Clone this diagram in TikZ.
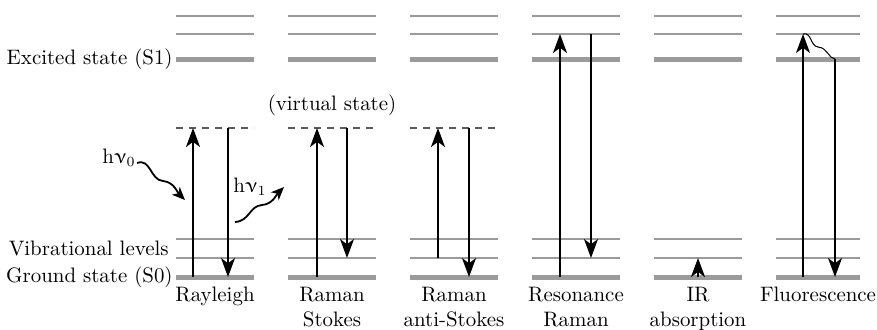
\documentclass[tikz,border=0pt]{standalone}
\usepackage{upgreek}
\usetikzlibrary{arrows.meta}
\definecolor{levelgray}{RGB}{155,155,155}
\definecolor{virtgray}{RGB}{90,90,90}
\tikzset{
  thinlevel/.style={draw=levelgray,line width=0.75pt},
  thicklevel/.style={draw=levelgray,line width=2.5pt},
  virtlevel/.style={draw=virtgray,line width=0.6pt,dash pattern=on 3.5pt off 3pt},
  trans/.style={line width=0.85pt,-{Stealth[length=9.5pt,width=7pt,inset=2.6pt]}},
  photon/.style={line width=0.9pt,-{Stealth[length=6.5pt,width=5.5pt,inset=1.8pt]}},
  lbl/.style={font=\fontsize{10.45}{12.5}\selectfont,inner sep=1pt},
  collbl/.style={align=center,anchor=north,inner sep=0pt,font=\fontsize{10.45}{12.2}\selectfont}
}
\begin{document}
\begin{tikzpicture}[x=0.5pt,y=-0.5pt]
\useasboundingbox (0,0) rectangle (877,329);

% energy levels of one column between left x and right x
\newcommand{\levelset}[2]{%
  \draw[thinlevel] (#1,16) -- (#2,16);
  \draw[thinlevel] (#1,34) -- (#2,34);
  \draw[thicklevel] (#1,59) -- (#2,59);
  \draw[thinlevel] (#1,239) -- (#2,239);
  \draw[thinlevel] (#1,258) -- (#2,258);
  \draw[thicklevel] (#1,277) -- (#2,277);
}
\levelset{176}{254}
\levelset{288}{376}
\levelset{410}{498}
\levelset{532}{620}
\levelset{654}{742}
\levelset{776}{860}

% virtual states
\draw[virtlevel] (176,128) -- (254,128);
\draw[virtlevel] (288,128) -- (376,128);
\draw[virtlevel] (410,128) -- (498,128);

% left-hand labels
\node[lbl,anchor=east] (lexc) at (175,59) {Excited state (S1)};
\node[lbl,anchor=east] (lvib) at (171,248) {Vibrational levels};
\node[lbl,anchor=east] (lgnd) at (175,277) {Ground state (S0)};
\node[lbl] (lvirt) at (332,105) {(virtual state)};

% column labels
\node[collbl] (cray) at (215,287) {Rayleigh};
\node[collbl] (csto) at (332,287) {Raman\\Stokes};
\node[collbl] (cast) at (454,287) {Raman\\anti-Stokes};
\node[collbl] (cres) at (576,287) {Resonance\\Raman};
\node[collbl] (cir) at (698,287) {IR\\absorption};
\node[collbl] (cflu) at (818,287) {Fluorescence};

% transition end points
\coordinate (r1a) at (193,277); \coordinate (r1b) at (193,128);
\coordinate (r2a) at (228,128); \coordinate (r2b) at (228,277);
\coordinate (s1a) at (317,277); \coordinate (s1b) at (317,128);
\coordinate (s2a) at (347,128); \coordinate (s2b) at (347,258);
\coordinate (a1a) at (438,258); \coordinate (a1b) at (438,128);
\coordinate (a2a) at (469,128); \coordinate (a2b) at (469,277);
\coordinate (e1a) at (560,277); \coordinate (e1b) at (560,34);
\coordinate (e2a) at (591,34);  \coordinate (e2b) at (591,258);
\coordinate (i1a) at (698,277); \coordinate (i1b) at (698,258);
\coordinate (f1a) at (803,277); \coordinate (f1b) at (803,34);
\coordinate (f2a) at (835,59);  \coordinate (f2b) at (835,277);

\draw[trans] (r1a) -- (r1b);
\draw[trans] (r2a) -- (r2b);
\draw[trans] (s1a) -- (s1b);
\draw[trans] (s2a) -- (s2b);
\draw[trans] (a1a) -- (a1b);
\draw[trans] (a2a) -- (a2b);
\draw[trans] (e1a) -- (e1b);
\draw[trans] (e2a) -- (e2b);
\draw[trans] (i1a) -- (i1b);
\draw[trans] (f1a) -- (f1b);
\draw[trans] (f2a) -- (f2b);

% non-radiative relaxation
\draw[line width=0.5pt] (f1b) .. controls (812,32) and (810,46) .. (818,47)
  .. controls (828,48) and (828,58) .. (f2a);

% incoming and scattered photons
\coordinate (p0a) at (137,163); \coordinate (p0b) at (185,200);
\coordinate (p1a) at (235,222); \coordinate (p1b) at (284,187);
\node[lbl] (hn0) at (119,158) {h$\upnu_0$};
\node[lbl] (hn1) at (250,187) {h$\upnu_1$};
\draw[photon] (p0a) .. controls (151,158) and (150,180) .. (163,181)
  .. controls (174,182) and (177,192) .. (p0b);
\draw[photon] (p1a) .. controls (250,221) and (249,206) .. (262,205)
  .. controls (273,204) and (276,195) .. (p1b);
\end{tikzpicture}
\end{document}
